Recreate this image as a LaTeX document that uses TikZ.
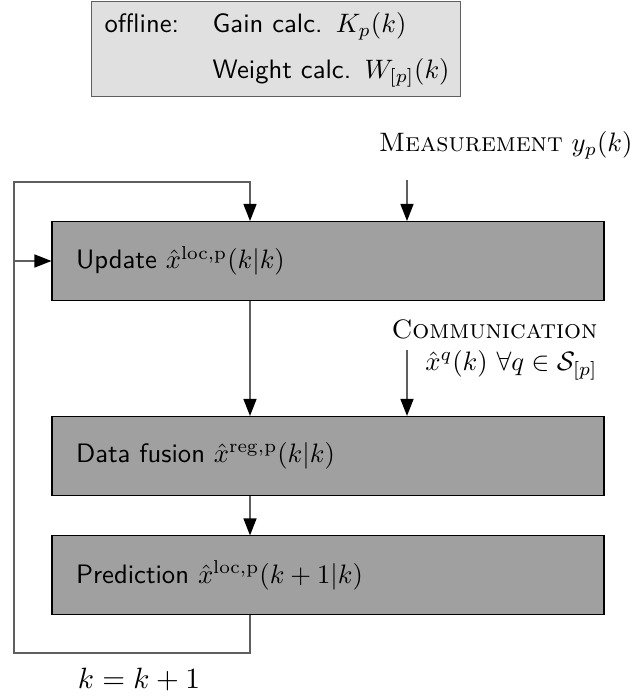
\documentclass[tikz,border=0pt]{standalone}
\usepackage{amsmath}
\usepackage{amssymb}
\usepackage{tikz}
\usetikzlibrary{arrows.meta,positioning}
\definecolor{blockgray}{RGB}{160,160,160}
\definecolor{offgray}{RGB}{224,224,224}
\definecolor{linegray}{RGB}{95,95,95}

\begin{document}
\begin{tikzpicture}[%
        x=0.375pt, y=-0.375pt,
        >={Triangle[length=6.4pt,width=4.9pt,color=black]},
        node distance=73.1pt,
        on grid,
        block/.style={draw=black, fill=blockgray, minimum width=207pt,
            minimum height=29.6pt, inner xsep=9pt, text width=189pt,
            align=left, font=\sffamily},
        offbox/.style={draw=linegray, fill=offgray, minimum width=138.4pt,
            minimum height=34.5pt, inner xsep=4.9pt, text width=128.6pt,
            align=left, font=\sffamily},
        flow/.style={draw=linegray, line width=0.5pt}
        ]
        \useasboundingbox (0,0) rectangle (643,697);

        % offline part
        \node[offbox, anchor=north west] (off) at (91,1)
            {\begin{tabular}{@{}l@{\hspace{12.6pt}}l@{}}
             offline: & Gain calc. $K_p(k)$\\[5pt]
                      & Weight calc. $W_{[p]}(k)$
             \end{tabular}};

        % main loop
        \node[block] (upd) at (328,261) {Update $\hat{x}^{\mathrm{loc,p}}(k|k)$};
        \node[block] (fus) [below=of upd] {Data fusion $\hat{x}^{\mathrm{reg,p}}(k|k)$};
        \node[block] (pred) [below=44.8pt of fus]
            {\raisebox{-3pt}{Prediction $\hat{x}^{\mathrm{loc,p}}(k+1|k)$}};

        \node[anchor=east] (meas) at (642,145) {\textsc{Measurement} $y_p(k)$};
        \node[anchor=east, align=right, inner sep=0pt] (comm) at (598,350)
            {\textsc{Communication}\\ $\hat{x}^q(k)\ \forall q \in \mathcal{S}_{[p]}$};
        \node[scale=1.1] (inc) at (139,680) {$k=k+1$};

        \coordinate (lx) at (250,0);
        \coordinate (rx) at (407,0);
        \coordinate (ltop) at (14,182);
        \coordinate (lbot) at (14,653);
        \coordinate (min) at (407,180);
        \coordinate (cin) at (407,350);

        \path[flow,->] (upd.south -| lx) -- (fus.north -| lx);
        \path[flow,->] (fus.south -| lx) -- (pred.north -| lx);
        \path[flow,->] (min) -- (upd.north -| rx);
        \path[flow,->] (cin) -- (fus.north -| rx);
        \path[flow,->] (pred.south -| lx) |- (lbot) -- (ltop) -| (upd.north -| lx);
        \path[flow,->] (upd.west -| ltop) -- (upd.west);

    \end{tikzpicture}
\end{document}
